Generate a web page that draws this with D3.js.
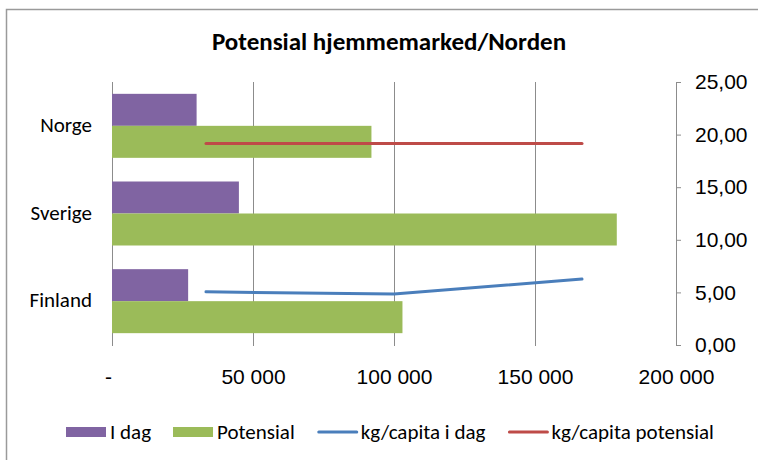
<!DOCTYPE html>
<html>
<head>
<meta charset="utf-8">
<script src="https://cdn.jsdelivr.net/npm/d3@7"></script>
<style>
  body { margin: 0; background: #fff; }
  svg { font-family: Carlito, 'Liberation Sans Narrow', 'Noto Sans', sans-serif; }
</style>
</head>
<body>
<div id="chart"></div>
<script>
// data
var countries = ['Norge', 'Sverige', 'Finland']
var iDag = [30000, 45000, 27000]
var potensial = [92000, 179000, 103000]
var kgIDag = [5.05, 4.85, 6.27]
var kgPotensial = [19.15, 19.15, 19.15]
var xTicks = [0, 50000, 100000, 150000, 200000]
var yTicks = [0, 5, 10, 15, 20, 25]

var W = 758
var H = 460
var margin = { top: 82, left: 112, right: 82, bottom: 115 }
var width = W - margin.left - margin.right
var height = H - margin.top - margin.bottom
var fontSize = 21

var svg = d3.select('#chart')
  .append('svg')
  .attr('width', W)
  .attr('height', H)

// chart area border
svg.append('path')
  .attr('d', `M6.5,${H} V9.5 H${W}`)
  .attr('fill', 'none')
  .attr('stroke', '#9a9a9a')
  .attr('stroke-width', 1.5)

svg.append('text')
  .text('Potensial hjemmemarked/Norden')
  .attr('x', 389)
  .attr('y', 50)
  .attr('text-anchor', 'middle')
  .attr('font-size', 25)
  .attr('font-weight', 'bold')

var g = svg.append('g')
  .attr('transform', `translate(${margin.left}, ${margin.top})`)

// scales
var xScale = d3.scaleLinear().domain([0, 200000]).range([0, width])
var yBand = d3.scaleBand().domain(countries).range([0, height]).paddingInner(0.27).paddingOuter(0.135)
var seriesBand = d3.scaleBand().domain(['iDag', 'potensial']).range([0, yBand.bandwidth()])
var y2Scale = d3.scaleLinear().domain([0, 25]).range([height, 0])
var xLine = d3.scalePoint().domain(countries).range([0, width]).padding(0.5)

// vertical gridlines + bottom axis
var xAxis = d3.axisBottom(xScale)
  .tickValues(xTicks)
  .tickSize(height + 1)
  .tickPadding(23)
  .tickFormat(d => d === 0 ? '-' : d3.format(',')(d).replace(/,/g, ' '))
g.append('g')
  .attr('class', 'axis x-axis')
  .call(xAxis)
  .call(a => a.select('.domain').remove())
  .call(a => a.selectAll('line').attr('stroke', '#8c8c8c'))
  .call(a => a.selectAll('text').attr('font-size', fontSize).attr('fill', '#000').attr('font-family', null))
g.select('.x-axis').selectAll('.tick').filter(d => d === 0).select('text').attr('dx', -4)

// bars
var groups = g.selectAll('.country')
  .data(countries)
  .enter()
  .append('g')
  .attr('class', 'country')
  .attr('transform', d => `translate(0, ${yBand(d)})`)

groups.append('rect')
  .attr('x', 0)
  .attr('y', seriesBand('iDag'))
  .attr('height', seriesBand.bandwidth())
  .attr('width', (d, i) => xScale(iDag[i]))
  .attr('fill', '#8064a2')

groups.append('rect')
  .attr('x', 0)
  .attr('y', seriesBand('potensial'))
  .attr('height', seriesBand.bandwidth())
  .attr('width', (d, i) => xScale(potensial[i]))
  .attr('fill', '#9bbb59')

// category labels
g.selectAll('.cat-label')
  .data(countries)
  .enter()
  .append('text')
  .attr('class', 'cat-label')
  .text(d => d)
  .attr('x', -20)
  .attr('y', d => yBand(d) + yBand.bandwidth() / 2)
  .attr('dy', '0.3em')
  .attr('text-anchor', 'end')
  .attr('font-size', fontSize)

// lines on secondary axis
var line = d3.line()
  .x((d, i) => xLine(countries[i]))
  .y(d => y2Scale(d))

g.append('path')
  .datum(kgIDag)
  .attr('d', line)
  .attr('fill', 'none')
  .attr('stroke', '#4a7ebb')
  .attr('stroke-width', 3)
  .attr('stroke-linecap', 'round')

g.append('path')
  .datum(kgPotensial)
  .attr('d', line)
  .attr('fill', 'none')
  .attr('stroke', '#be4b48')
  .attr('stroke-width', 3)
  .attr('stroke-linecap', 'round')

// right axis
var yAxis = d3.axisRight(y2Scale)
  .tickValues(yTicks)
  .tickSize(5)
  .tickSizeOuter(5)
  .tickPadding(14)
  .tickFormat(d => d3.format('.2f')(d).replace('.', ','))
g.append('g')
  .attr('class', 'axis y-axis')
  .attr('transform', `translate(${width}, 0)`)
  .call(yAxis)
  .call(a => a.select('.domain').attr('stroke', '#8c8c8c'))
  .call(a => a.selectAll('line').attr('stroke', '#8c8c8c'))
  .call(a => a.selectAll('text').attr('font-size', fontSize).attr('fill', '#000').attr('font-family', null))

// legend
var legendItems = [
  { name: 'I dag', color: '#8064a2', type: 'rect' },
  { name: 'Potensial', color: '#9bbb59', type: 'rect' },
  { name: 'kg/capita i dag', color: '#4a7ebb', type: 'line' },
  { name: 'kg/capita potensial', color: '#be4b48', type: 'line' }
]
var legend = svg.selectAll('.legend')
  .data(legendItems)
  .enter()
  .append('g')
  .attr('class', 'legend')

legend.filter(d => d.type === 'rect')
  .append('rect')
  .attr('x', 0)
  .attr('y', -5)
  .attr('width', 40)
  .attr('height', 10)
  .attr('fill', d => d.color)

legend.filter(d => d.type === 'line')
  .append('line')
  .attr('x1', 2)
  .attr('x2', 40)
  .attr('stroke', d => d.color)
  .attr('stroke-width', 3)
  .attr('stroke-linecap', 'round')

legend.append('text')
  .text(d => d.name)
  .attr('x', 44)
  .attr('dy', '0.33em')
  .attr('font-size', fontSize)

var legendX = 66
legend.each(function() {
  var item = d3.select(this)
  item.attr('transform', `translate(${legendX}, 432)`)
  legendX += 44 + item.select('text').node().getComputedTextLength() + 22
})
</script>
</body>
</html>
